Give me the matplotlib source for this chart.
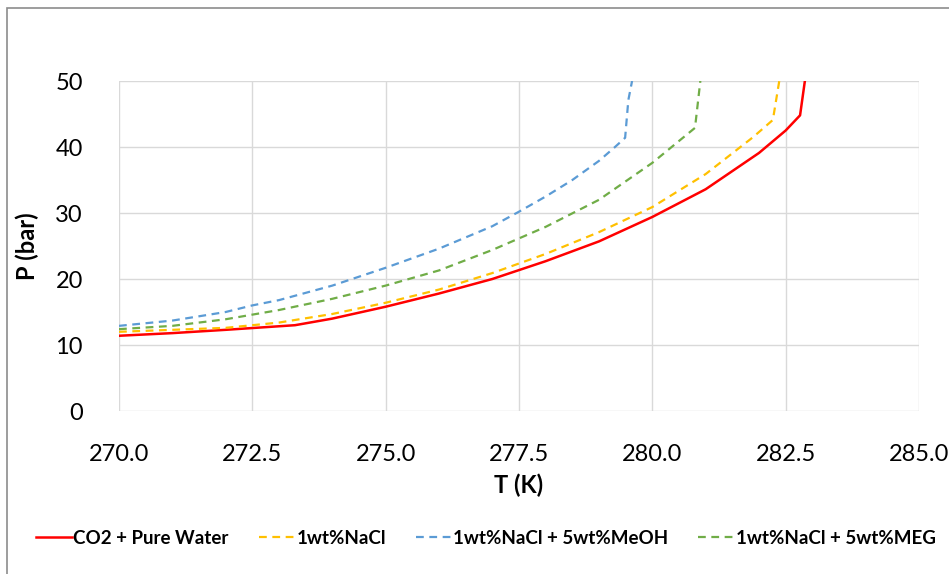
import numpy as np
import matplotlib
matplotlib.use('Agg')
import matplotlib.pyplot as plt
import matplotlib.patches as pat

plt.rcParams['font.family'] = ['Lato', 'DejaVu Sans']

# data
t_water = [270, 271, 272, 273.3, 274, 275, 276, 277, 278, 279, 280, 281, 282, 282.5, 282.77, 282.86]
p_water = [11.4, 11.8, 12.3, 13.0, 14.0, 15.8, 17.8, 20.0, 22.7, 25.7, 29.4, 33.6, 39.1, 42.5, 44.8, 50]
t_nacl = [270, 271, 272, 273, 274, 275, 276, 277, 278, 279, 280, 281, 281.89, 282.26, 282.38]
p_nacl = [12.0, 12.3, 12.6, 13.4, 14.7, 16.4, 18.4, 20.9, 23.8, 27.1, 30.9, 35.9, 41.5, 44.1, 50]
t_meoh = [270, 271, 272, 272.5, 273, 274, 275, 276, 277, 277.5, 278, 278.5, 279, 279.3, 279.49, 279.55, 279.62]
p_meoh = [12.9, 13.7, 15.0, 16.0, 16.8, 19.0, 21.7, 24.6, 28.0, 30.2, 32.5, 35.0, 37.9, 40.0, 41.4, 47.1, 50]
t_meg = [270, 271, 272, 273, 274, 275, 276, 277, 278, 279, 280, 280.8, 280.9]
p_meg = [12.4, 12.9, 13.9, 15.3, 17.0, 19.0, 21.3, 24.4, 27.9, 32.0, 37.6, 42.9, 50]

labels = ['CO2 + Pure Water', '1wt%NaCl', '1wt%NaCl + 5wt%MeOH', '1wt%NaCl + 5wt%MEG']
colors = ['#ff0000', '#ffc000', '#5b9bd5', '#70ad47']

fig = plt.figure(figsize=(9.49, 5.74), dpi=100)
fig.patches.append(pat.Rectangle((7/949, -0.1), 1.2, (574-8)/574 + 0.1, transform=fig.transFigure,
                                 fill=False, edgecolor='#8c8c8c', lw=1.2))
ax = fig.add_axes([119/949, 163/574, 800/949, 330/574])

dash = (0, (3.5, 2.5))
ax.plot(t_water, p_water, color=colors[0], lw=1.8, label=labels[0])
ax.plot(t_nacl, p_nacl, color=colors[1], lw=1.6, ls=dash, label=labels[1])
ax.plot(t_meoh, p_meoh, color=colors[2], lw=1.6, ls=dash, label=labels[2])
ax.plot(t_meg, p_meg, color=colors[3], lw=1.6, ls=dash, label=labels[3])

ax.set_xlim(270, 285)
ax.set_ylim(0, 50)
xt = np.arange(270, 285.1, 2.5)
ax.set_xticks(xt)
ax.set_xticklabels(['%.1f' % v for v in xt])
ax.set_yticks(np.arange(0, 51, 10))
ax.grid(True, color='#d9d9d9', lw=1.0)
ax.set_axisbelow(True)
for s in ax.spines.values():
    s.set_visible(False)
ax.tick_params(length=0, labelsize=17, colors='black')
ax.tick_params(axis='x', pad=24)
ax.tick_params(axis='y', pad=26)
ax.set_xlabel('T (K)', fontsize=17, fontweight='bold', labelpad=6)
ax.set_ylabel('P (bar)', fontsize=17, fontweight='bold', labelpad=12)

fig.legend(loc='center', bbox_to_anchor=(0.512, (574-538)/574), ncol=4, frameon=False,
           prop={'size': 13.5, 'weight': 'bold'}, handlelength=1.9, handletextpad=0.1,
           columnspacing=1.6)

plt.savefig('out.png', dpi=100)
